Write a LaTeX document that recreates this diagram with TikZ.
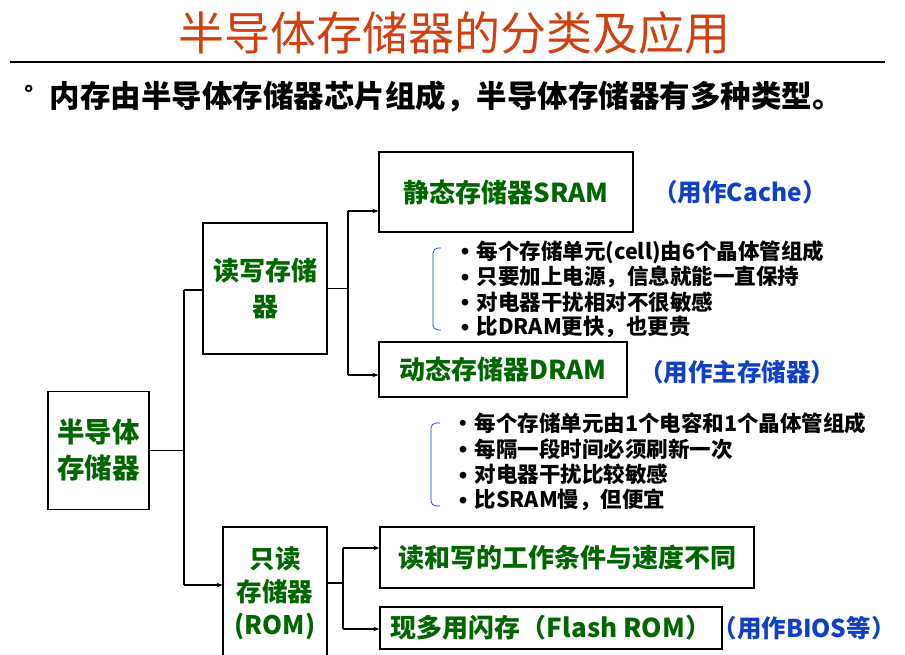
\documentclass[tikz,border=0pt]{standalone}
\usepackage{fontspec}
\setmainfont{Noto Sans CJK SC}
\usetikzlibrary{arrows.meta}
\definecolor{mygreen}{RGB}{0,102,0}
\definecolor{myblue}{RGB}{16,64,200}
\definecolor{myred}{RGB}{208,64,16}
\newcommand{\blt}[1]{\makebox[12pt]{#1}\hspace{5.5pt}}
\newcommand{\dotb}{\raisebox{4.5pt}{\fontsize{7.5}{8}\selectfont ●}}
\tikzset{
  box/.style={draw,line width=1.1pt,text=mygreen,align=center,inner sep=0pt,
    font=\bfseries\fontsize{26}{36}\selectfont},
  note/.style={text=myblue,font=\bfseries\fontsize{24.5}{28}\selectfont},
  item/.style={anchor=west,inner sep=0pt,font=\bfseries\fontsize{21.5}{25}\selectfont},
  brk/.style={myblue,line width=0.7pt,rounded corners=5pt},
  link/.style={line width=1.1pt},
}
\begin{document}
\begin{tikzpicture}[x=1pt,y=-1pt,>={Stealth[length=6pt,width=4.5pt]}]
  \useasboundingbox (0,0) rectangle (905,654);
  % title and heading line
  \node[font=\fontsize{46}{50}\selectfont,text=myred] (title) at (454,33) {半导体存储器的分类及应用};
  \draw[line width=2pt] (10,62) -- (885,62);
  \node[anchor=west,inner sep=0pt,font=\bfseries\fontsize{30.5}{34}\selectfont] (intro) at (24,97)
    {\raisebox{5pt}{\fontsize{22}{22}\selectfont °}\hspace{16pt}内存由半导体存储器芯片组成，半导体存储器有多种类型。};

  % boxes
  \node[box,minimum width=101,minimum height=118,font=\bfseries\fontsize{27.5}{36}\selectfont] (root) at (98.5,450.5) {半导体\\存储器};
  \node[box,minimum width=124,minimum height=131] (rw) at (265,288.5) {读写存储\\器};
  \node[box,minimum width=254,minimum height=80] (sram) at (506,192) {静态存储器SRAM};
  \node[box,minimum width=248,minimum height=55] (dram) at (503,369.5) {动态存储器DRAM};
  \node[box,minimum width=104,minimum height=133,font=\bfseries\fontsize{25.5}{33}\selectfont] (rom) at (275,593.5) {只读\\存储器\\(ROM)};
  \node[box,minimum width=374,minimum height=61] (cond) at (567,557.5) {读和写的工作条件与速度不同};
  \node[box,minimum width=342,minimum height=42] (flash) at (551,628) {现多用闪存（Flash ROM）};

  % notes
  \node[note] (n1) at (740,192) {（用作Cache）};
  \node[note] (n2) at (737,372) {（用作主存储器）};
  \node[note] (n3) at (804,628) {（用作BIOS等）};

  % SRAM features
  \foreach \t [count=\i] in {每个存储单元(cell)由6个晶体管组成,只要加上电源，信息就能一直保持,对电器干扰相对不很敏感,比DRAM更快，也更贵}
    \node[item] (s\i) at (459,227+25*\i) {\blt{\dotb}\t};
  \draw[brk] (441,248) -- (433,248) -- (433,330) -- (441,330);

  % DRAM features
  \foreach \t/\b [count=\i] in {每个存储单元由1个电容和1个晶体管组成/·,每隔一段时间必须刷新一次/\dotb,对电器干扰比较敏感/\dotb,比SRAM慢，但便宜/\dotb}
    \node[item] (d\i) at (457,398+25.5*\i) {\blt{\b}\t};
  \draw[brk] (440,423) -- (431,423) -- (431,506) -- (440,506);

  % connectors
  \coordinate (b1) at (184,290);
  \coordinate (b2) at (184,585);
  \draw[link] (root.east) -- (root.east -| b1);
  \draw[link] (b1) -- (b2);
  \draw[link] (b1) -- (b1 -| rw.west);
  \draw[link,->] (b2) -- (b2 -| rom.west);

  \coordinate (r1) at (348,211);
  \coordinate (r2) at (348,375);
  \draw[link] (rw.east) -- (rw.east -| r1);
  \draw[link] (r1) -- (r2);
  \draw[link,->] (r1) -- (r1 -| sram.west);
  \draw[link,->] (r2) -- (r2 -| dram.west);

  \coordinate (o1) at (343,548);
  \coordinate (o2) at (343,629);
  \draw[link] (rom.east |- 0,583) -- (343,583);
  \draw[link] (o1) -- (o2);
  \draw[link,->] (o1) -- (o1 -| cond.west);
  \draw[link,->] (o2) -- (o2 -| flash.west);
\end{tikzpicture}
\end{document}
